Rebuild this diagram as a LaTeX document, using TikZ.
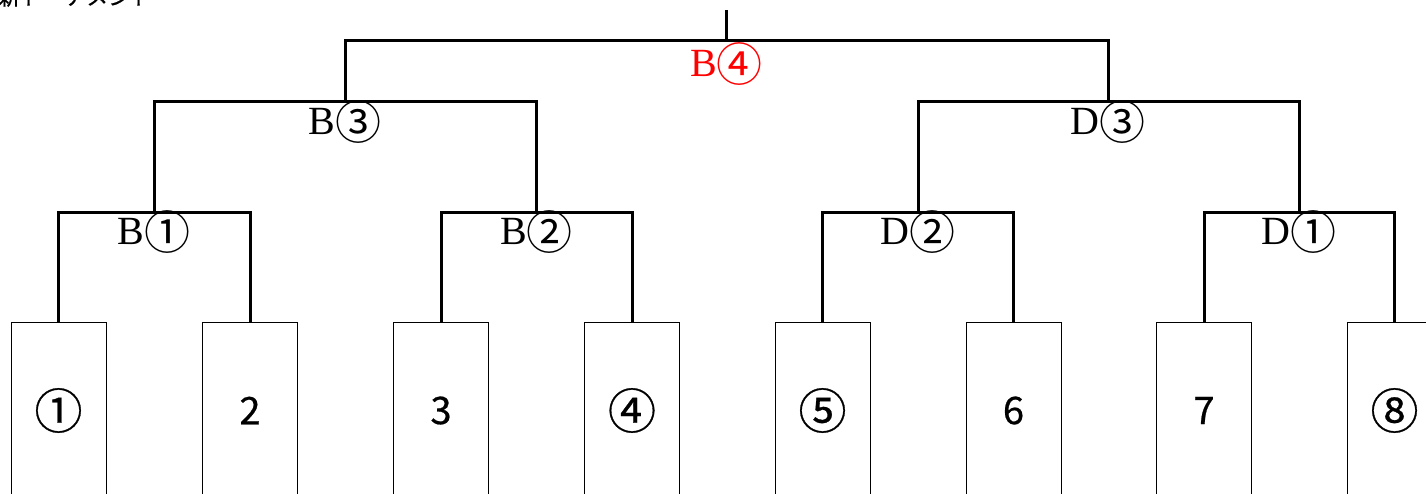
\documentclass[tikz,border=0pt]{standalone}
\usepackage{fontspec}
\setmainfont{Liberation Serif}
\newfontfamily\cjk{Noto Sans CJK JP}
\newfontfamily\cjkb{Noto Sans CJK JP}[FakeBold=0.6]
\usetikzlibrary{positioning}
\newcommand{\seatc}[1]{{\fontsize{48}{48}\selectfont #1}}
\newcommand{\labc}[1]{\raisebox{-5pt}{\cjk\fontsize{46}{46}\selectfont #1}}
\tikzset{
  seat/.style={draw, line width=1pt, minimum width=95pt, minimum height=176pt,
    anchor=north, inner sep=0pt, font=\cjkb\fontsize{38}{38}\selectfont},
  bracket/.style={line width=3pt},
  result/.style={anchor=base, inner sep=0pt, font=\fontsize{40}{40}\selectfont},
}
\begin{document}
\begin{tikzpicture}[x=1pt,y=-1pt]
\useasboundingbox (0,0) rectangle (1426,494);
% title, cut off at the top
\node[anchor=base west, inner sep=0pt, font=\cjkb\fontsize{22}{22}\selectfont] (title) at (-2,5) {新トーナメント};
% seats
\foreach \i/\x/\t in {1/58.5/\seatc{①}, 2/250/2, 3/441/3, 4/632/\seatc{④}, 5/822.5/\seatc{⑤}, 6/1013.5/6, 7/1204/7, 8/1394.5/\seatc{⑧}}
  \node[seat] (p\i) at (\x,322) {\t};
% joints
\coordinate (b1) at (154,213);
\coordinate (b2) at (536.5,213);
\coordinate (d2) at (918,213);
\coordinate (d1) at (1299,213);
\coordinate (c1) at (345,102);
\coordinate (c2) at (1108,102);
\coordinate (fin) at (726.5,41);
\coordinate (top) at (726.5,10);
% first round
\draw[bracket] (p1.north) |- (b1) -| (p2.north);
\draw[bracket] (p3.north) |- (b2) -| (p4.north);
\draw[bracket] (p5.north) |- (d2) -| (p6.north);
\draw[bracket] (p7.north) |- (d1) -| (p8.north);
% second round
\draw[bracket] (b1) |- (c1) -| (b2);
\draw[bracket] (d2) |- (c2) -| (d1);
% final
\draw[bracket] (c1) |- (fin) -| (c2);
\draw[bracket] (fin) -- (top);
% match labels
\node[result, yshift=-32pt] (lb1) at (b1) {B\labc{①}};
\node[result, yshift=-32pt] (lb2) at (b2) {B\labc{②}};
\node[result, yshift=-32pt] (ld2) at (d2) {D\labc{②}};
\node[result, yshift=-32pt] (ld1) at (d1) {D\labc{①}};
\node[result, yshift=-33pt] (lb3) at (c1) {B\labc{③}};
\node[result, yshift=-33pt] (ld3) at (c2) {D\labc{③}};
\node[result, yshift=-36pt, text=red] (lb4) at (fin) {B\labc{④}};
\end{tikzpicture}
\end{document}
